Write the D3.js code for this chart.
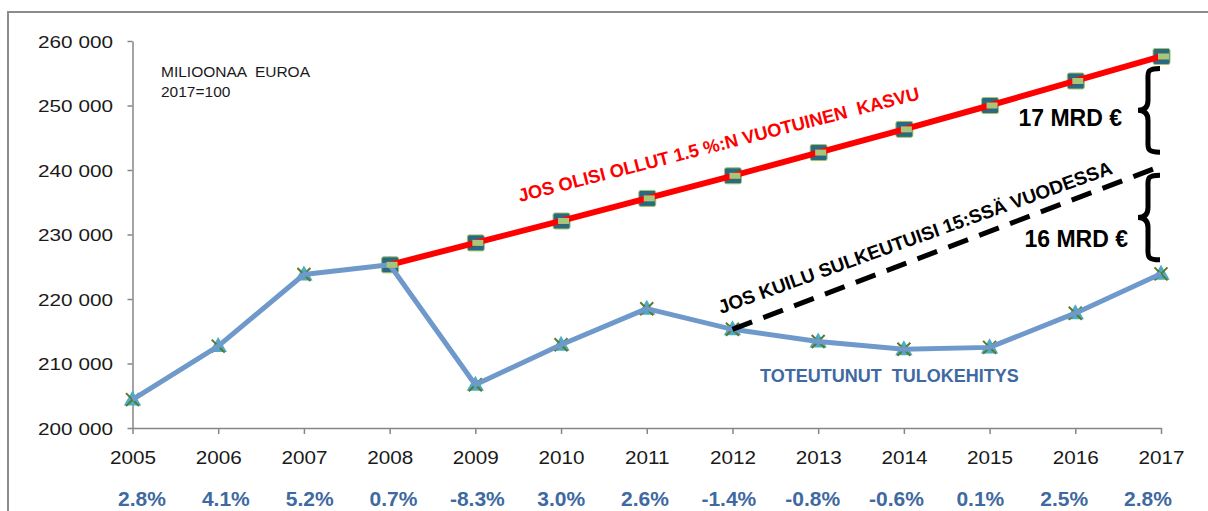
<!DOCTYPE html>
<html>
<head>
<meta charset="utf-8">
<script src="https://cdn.jsdelivr.net/npm/d3@7"></script>
<style>
  body { margin: 0; background: #fff; }
  svg { display: block; font-family: "Liberation Sans", Arial, sans-serif; }
  text { white-space: pre; }
</style>
</head>
<body>
<svg id="chart"></svg>
<script>
// values in euros (millions), 2017 prices
const years = [2005, 2006, 2007, 2008, 2009, 2010, 2011, 2012, 2013, 2014, 2015, 2016, 2017];
const actual = [204400, 212700, 223800, 225300, 206700, 212900, 218500, 215300, 213400, 212200, 212500, 217800, 223900];
const growthYears = [2008, 2009, 2010, 2011, 2012, 2013, 2014, 2015, 2016, 2017];
const growth = [225300, 228700, 232100, 235600, 239100, 242700, 246300, 250000, 253800, 257600];
const gapYears = [2012, 2017];
const gapClose = [215300, 240600];
const changes = ["2.8%", "4.1%", "5.2%", "0.7%", "-8.3%", "3.0%", "2.6%", "-1.4%", "-0.8%", "-0.6%", "0.1%", "2.5%", "2.8%"];
const yTicks = [200000, 210000, 220000, 230000, 240000, 250000, 260000];

const W = 1208, H = 511;
const svg = d3.select("#chart").attr("width", W).attr("height", H);

const x = d3.scaleLinear().domain([2005, 2017]).range([132.5, 1161]);
const y = d3.scaleLinear().domain([200000, 260000]).range([428, 41]);
const xPct = d3.scalePoint().domain(years).range([142, 1148]);

const fi = d3.formatLocale({decimal: ",", thousands: " ", grouping: [3], currency: ["", " €"]});
const fmt = fi.format(",d");

function addText(parent, str, px, py, o) {
    return parent.append("text")
        .attr("transform", `translate(${px},${py}) rotate(${o.rot || 0}) scale(${o.sx || 1},1)`)
        .attr("text-anchor", o.anchor || "start")
        .style("font-size", o.size + "px")
        .style("font-weight", o.bold ? "bold" : "normal")
        .attr("fill", o.color || "#000")
        .text(str);
}

// frame
svg.append("path")
    .attr("d", `M8,${H} L8,12 L${W},12`)
    .attr("fill", "none")
    .attr("stroke", "#8c8c8c")
    .attr("stroke-width", 2);

// y axis
const yAxis = svg.append("g")
    .attr("transform", `translate(${x(2005)},0)`)
    .call(d3.axisLeft(y).tickValues(yTicks).tickFormat(fmt).tickSize(5).tickSizeOuter(0));
yAxis.select(".domain").attr("stroke", "#868686").attr("stroke-width", 1.5);
yAxis.selectAll(".tick line").attr("stroke", "#868686").attr("stroke-width", 1.5);
yAxis.selectAll(".tick text")
    .attr("x", null).attr("dy", null)
    .attr("transform", "translate(-19.5,6) scale(1.22,1)")
    .attr("fill", "#1a1a1a")
    .style("font-size", "17px")
    .style("font-family", "Liberation Sans, Arial, sans-serif");

// x axis
const xAxis = svg.append("g")
    .attr("transform", `translate(0,${y(200000)})`)
    .call(d3.axisBottom(x).tickValues(years).tickFormat(d3.format("d")).tickSize(6).tickSizeOuter(0));
xAxis.select(".domain").attr("stroke", "#868686").attr("stroke-width", 1.5);
xAxis.selectAll(".tick line").attr("stroke", "#868686").attr("stroke-width", 1.5);
xAxis.selectAll(".tick text")
    .attr("y", null).attr("dy", null)
    .attr("transform", "translate(0,36) scale(1.15,1)")
    .attr("fill", "#1a1a1a")
    .style("font-size", "18px")
    .style("font-family", "Liberation Sans, Arial, sans-serif");

// yearly change row
svg.append("g").selectAll("text")
    .data(years)
    .join("text")
    .attr("x", d => xPct(d))
    .attr("y", 506)
    .attr("text-anchor", "middle")
    .style("font-size", "21px")
    .style("font-weight", "bold")
    .attr("fill", "#3f69a1")
    .text((d, i) => changes[i]);

// unit note
addText(svg, "MILIOONAA  EUROA", 161, 77, {size: 15.5, color: "#1a1a1a"});
addText(svg, "2017=100", 161, 97, {size: 15.5, color: "#1a1a1a"});

const actualPts = years.map((d, i) => [d, actual[i]]);
const growthPts = growthYears.map((d, i) => [d, growth[i]]);
const gapPts = gapYears.map((d, i) => [d, gapClose[i]]);
const line = d3.line().x(d => x(d[0])).y(d => y(d[1]));

// actual series markers: triangle + x
const am = svg.append("g").selectAll("g")
    .data(actualPts)
    .join("g")
    .attr("transform", d => `translate(${x(d[0])},${y(d[1])})`);
am.append("path")
    .attr("d", d3.symbol(d3.symbolTriangle, 130))
    .attr("transform", "translate(0,1)")
    .attr("fill", "#4bacc6");
am.append("path")
    .attr("d", "M-6.5,-6.5L6.5,6.5M-6.5,6.5L6.5,-6.5")
    .attr("stroke", "#5a7a2a")
    .attr("stroke-width", 2);

// growth series square markers
svg.append("g").selectAll("rect")
    .data(growthPts)
    .join("rect")
    .attr("x", d => x(d[0]) - 8)
    .attr("y", d => y(d[1]) - 8)
    .attr("width", 17)
    .attr("height", 16)
    .attr("rx", 2)
    .attr("fill", "#2a6a80")
    .attr("stroke", "#a8c46a")
    .attr("stroke-width", 1);

// actual line
svg.append("path")
    .datum(actualPts)
    .attr("d", line)
    .attr("fill", "none")
    .attr("stroke", "#7099cb")
    .attr("stroke-width", 5)
    .attr("stroke-linejoin", "round");

// growth line
svg.append("path")
    .datum(growthPts)
    .attr("d", line)
    .attr("fill", "none")
    .attr("stroke", "#ff0000")
    .attr("stroke-width", 6);

// dash markers on growth series
svg.append("g").selectAll("rect")
    .data(growthPts)
    .join("rect")
    .attr("x", d => x(d[0]) - 3)
    .attr("y", d => y(d[1]) - 3)
    .attr("width", 11)
    .attr("height", 6)
    .attr("fill", "#a9c57a");

// gap closing line
svg.append("path")
    .datum(gapPts)
    .attr("d", line)
    .attr("fill", "none")
    .attr("stroke", "#000")
    .attr("stroke-width", 5)
    .attr("stroke-dasharray", "21,12");

// braces
function bracePath(bx, yt, yb) {
    const ym = (yt + yb) / 2;
    return `M${bx + 12},${yt} C${bx - 2},${yt} ${bx},${yt + 4} ${bx},${yt + 14}` +
        ` L${bx},${ym - 10} C${bx},${ym - 3} ${bx - 4},${ym} ${bx - 10},${ym}` +
        ` C${bx - 4},${ym} ${bx},${ym + 3} ${bx},${ym + 10}` +
        ` L${bx},${yb - 14} C${bx},${yb - 4} ${bx - 2},${yb} ${bx + 12},${yb}`;
}
const bx = x(2017) - 13;
const gTop = y(growth[growth.length - 1]), gMid = y(gapClose[1]), gBot = y(actual[actual.length - 1]);
svg.append("path").attr("d", bracePath(bx, gTop + 12, gMid - 14))
    .attr("fill", "none").attr("stroke", "#000").attr("stroke-width", 5);
svg.append("path").attr("d", bracePath(bx, gMid + 9, gBot - 14))
    .attr("fill", "none").attr("stroke", "#000").attr("stroke-width", 5);

addText(svg, "17 MRD €", 1122, 126, {size: 23, bold: true, anchor: "end"});
addText(svg, "16 MRD €", 1128, 247, {size: 23, bold: true, anchor: "end"});

// line labels
addText(svg, "JOS OLISI OLLUT 1.5 %:N VUOTUINEN  KASVU", 520, 202, {size: 18.3, bold: true, color: "#ff0000", rot: -14.4});
addText(svg, "JOS KUILU SULKEUTUISI 15:SSÄ VUODESSA", 721, 314, {size: 19, bold: true, rot: -19.7});
addText(svg, "TOTEUTUNUT  TULOKEHITYS", 760, 382, {size: 18, bold: true, color: "#3f69a1"});
</script>
</body>
</html>
